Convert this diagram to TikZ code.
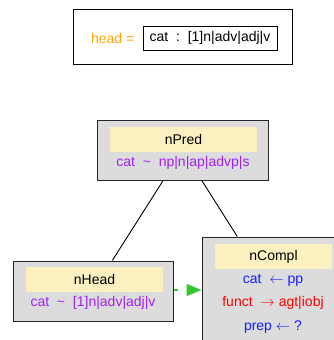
\documentclass[tikz,border=0pt]{standalone}
\usepackage{fontspec}
\setmainfont{Liberation Sans}
\usetikzlibrary{positioning,arrows.meta}

\definecolor{boxgray}{RGB}{220,220,220}
\definecolor{hdryellow}{RGB}{250,240,192}
\definecolor{headorange}{RGB}{255,165,0}
\definecolor{catpurple}{RGB}{160,32,240}
\definecolor{featblue}{RGB}{20,30,255}
\definecolor{featred}{RGB}{255,0,0}
\definecolor{linkgreen}{RGB}{50,200,50}

\tikzset{
  nodebox/.style={draw=black!85, fill=boxgray, line width=1pt, inner sep=0pt},
  hdr/.style={fill=hdryellow, minimum height=25pt, inner sep=0pt},
  feat/.style={inner sep=0pt, anchor=center},
}

\begin{document}
\begin{tikzpicture}[x=1pt, y=1pt, font=\fontsize{14}{16}\selectfont]
  \useasboundingbox (0,0) rectangle (334,-340);

  % head definition
  \node[draw, line width=0.9pt, minimum width=219pt, minimum height=55pt, inner sep=0pt] (headbox) at (182.5,-36.5) {};
  \node[draw, line width=0.9pt, minimum width=134pt, minimum height=24pt, inner sep=0pt] (headval) at (210,-38) {cat\ \ :\ \ [1]n|adv|adj|v};
  \node[anchor=east, inner sep=0pt, text=headorange] (headlbl) at ([xshift=-8pt]headval.west) {head =};

  % tree nodes
  \node[nodebox, minimum width=171pt, minimum height=60pt] (nPred) at (182.5,-150) {};
  \node[nodebox, minimum width=160pt, minimum height=60pt] (nHead) at (93,-291) {};
  \node[nodebox, minimum width=142pt, minimum height=112pt] (nCompl) at (273,-293) {};

  % headers
  \node[hdr, minimum width=147pt] (nPredHdr) at (183.5,-139.5) {nPred};
  \node[hdr, minimum width=137pt] (nHeadHdr) at (94.5,-279.5) {nHead};
  \node[hdr, minimum width=117pt] (nComplHdr) at (273.5,-256.5) {nCompl};

  % features
  \node[feat, text=catpurple] (nPredCat) at (183,-163) {cat\ \ \textasciitilde\ \ np|n|ap|advp|s};
  \node[feat, text=catpurple] (nHeadCat) at (93,-303) {cat\ \ \textasciitilde\ \ [1]n|adv|adj|v};
  \node[feat, text=featblue] (nComplCat) at (273,-280) {cat\ \ $\leftarrow$\ pp};
  \node[feat, text=featred] (nComplFunct) at (273,-303) {funct\ \ $\rightarrow$\ agt|iobj};
  \node[feat, text=featblue] (nComplPrep) at (273,-327) {prep\ $\leftarrow$\ ?};

  % links
  \draw[line width=0.9pt] (nPred) -- (nHead);
  \draw[line width=0.9pt] (nPred) -- (nCompl);
  \draw[linkgreen, line width=1.4pt, dash pattern=on 4pt off 12pt,
        -{Triangle[length=15pt,width=12pt]}]
    ([yshift=1pt]nHead.east) -- ([yshift=1pt]nHead.east -| nCompl.west);
\end{tikzpicture}
\end{document}
